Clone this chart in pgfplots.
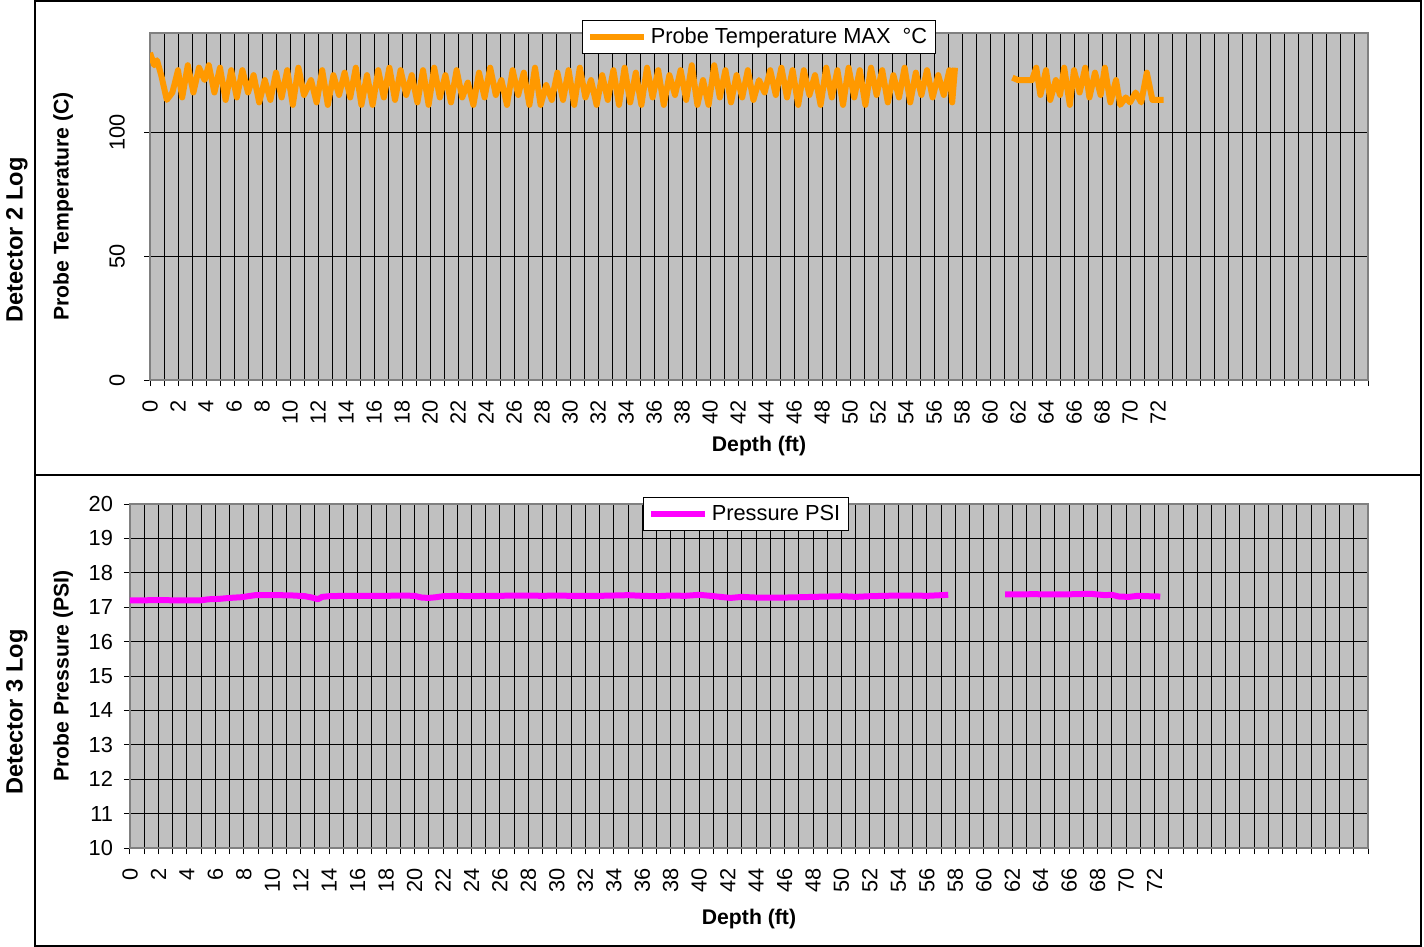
\documentclass[border=0pt]{standalone}
\usepackage{pgfplots}
\usepackage{pgfplotstable}
\pgfplotsset{compat=1.18}
\usepackage{fontspec}
\setmainfont{Liberation Sans}

\definecolor{probeorange}{HTML}{FF9900}
\definecolor{psimagenta}{HTML}{FF00FF}
\definecolor{plotgray}{HTML}{C0C0C0}
\definecolor{framegray}{HTML}{808080}

% Detector 2: probe temperature (C) against depth (ft)
\pgfplotstableread{
depth temp
0    132
0.3  127
0.5  129
0.8  123
1.2  113
1.6  116
2.0  125
2.3  114
2.7  127
3.1  116
3.5  126
3.9  121
4.2  127
4.6  116
5.0  126
5.4  113
5.8  125
6.2  114
6.6  125
7.0  116
7.4  123
7.8  112
8.2  121
8.6  113
9.0  124
9.4  114
9.8  125
10.2 111
10.6 126
11.0 115
11.5 121
11.9 112
12.3 125
12.7 111
13.1 123
13.5 115
13.9 124
14.3 114
14.7 126
15.1 111
15.5 123
15.9 111
16.3 125
16.7 114
17.1 126
17.5 113
17.9 125
18.3 115
18.7 123
19.1 112
19.5 125
19.9 111
20.3 126
20.7 114
21.1 123
21.5 112
21.9 125
22.3 114
22.7 120
23.1 111
23.5 124
23.9 114
24.3 126
24.7 115
25.1 121
25.5 111
25.9 125
26.3 115
26.7 124
27.1 111
27.5 126
27.9 111
28.3 119
28.7 113
29.1 124
29.5 113
29.9 125
30.3 111
30.7 126
31.1 114
31.5 121
31.9 111
32.3 123
32.7 113
33.1 125
33.5 111
33.9 126
34.3 112
34.7 124
35.1 111
35.5 126
35.9 114
36.3 125
36.7 111
37.1 123
37.5 115
37.9 125
38.3 113
38.7 127
39.1 111
39.5 121
39.9 111
40.3 127
40.7 114
41.1 125
41.5 112
41.9 123
42.3 114
42.7 125
43.1 113
43.5 121
43.9 116
44.3 125
44.7 115
45.1 126
45.5 114
45.9 125
46.3 111
46.7 125
47.1 115
47.5 123
47.9 111
48.3 126
48.7 114
49.1 125
49.5 111
49.9 126
50.3 114
50.7 125
51.1 111
51.5 126
51.9 115
52.3 125
52.7 112
53.1 123
53.5 114
53.9 126
54.3 112
54.7 124
55.1 115
55.5 125
55.9 114
56.3 123
56.7 115
57.1 125
57.3 112
57.5 126
59.5 nan
61.6 122
62.0 121
62.5 121
63.0 121
63.3 126
63.6 115
64.0 125
64.3 113
64.7 121
65.0 115
65.3 126
65.7 111
66.0 125
66.4 116
66.8 126
67.1 114
67.5 124
67.9 115
68.2 126
68.6 112
69.0 121
69.3 111
69.7 114
70.0 112
70.4 116
70.8 112
71.2 124
71.6 113
72.0 113
72.4 113
}\tempdata

% Detector 3: probe pressure (PSI) against depth (ft)
\pgfplotstableread{
depth psi
0    17.20
1    17.20
2    17.21
3    17.20
4    17.20
5    17.20
5.5  17.23
6.2  17.24
7    17.27
7.8  17.29
8.3  17.32
8.8  17.35
9.5  17.35
10.5 17.35
11.5 17.34
12.3 17.32
12.8 17.28
13.2 17.23
13.5 17.30
14   17.32
15   17.33
16   17.33
17   17.33
18   17.33
19   17.34
20   17.33
20.5 17.28
21   17.27
21.5 17.29
22   17.32
23   17.33
24   17.32
25   17.33
26   17.33
27   17.34
28   17.34
29   17.33
30   17.34
31   17.33
32   17.33
33   17.33
34   17.34
35   17.35
36   17.33
37   17.32
38   17.34
39   17.33
40   17.36
40.8 17.33
41.5 17.30
42.2 17.27
43   17.30
44   17.28
45   17.28
46   17.28
47   17.29
48   17.30
49   17.31
50   17.32
51   17.30
52   17.32
53   17.33
54   17.34
55   17.34
56   17.33
57   17.35
57.5 17.36
59.5 nan
61.5 17.37
62.5 17.37
63.5 17.38
64.5 17.37
65.5 17.37
66.5 17.38
67.5 17.39
68   17.37
68.5 17.35
69   17.36
69.5 17.31
70.2 17.30
70.8 17.33
71.5 17.32
72.4 17.31
}\psidata

\pgfplotsset{
  logpanel/.style={
    scale only axis,
    axis background/.style={fill=plotgray},
    axis line style={framegray, line width=1pt},
    xmin=0, xmax=87,
    xtick={0,2,...,72},
    minor xtick={0,1,...,87},
    xmajorgrids=true, xminorgrids=true, ymajorgrids=true,
    grid style={black, line width=0.5pt},
    minor grid style={black, line width=0.5pt},
    tick align=outside,
    tick pos=left,
    major tick length=3pt, minor tick length=3pt,
    every tick/.style={black, line width=0.5pt},
    ticklabel style={font=\fontsize{10.9}{12}\selectfont},
    /pgf/number format/assume math mode=true,
    % rotated labels: local x points up the page
    xticklabel style={rotate=90, anchor=east, xshift=-3.5pt},
    label style={font=\bfseries\fontsize{10.6}{12}\selectfont},
    legend style={draw=black, line width=0.5pt, fill=white,
      font=\fontsize{10.9}{12}\selectfont, anchor=center,
      inner xsep=2pt, inner ysep=1.5pt, legend cell align=left},
    legend image code/.code={\draw[##1] (0pt,0pt) -- (27pt,0pt);},
    unbounded coords=jump,
  }
}

\begin{document}
\begin{tikzpicture}
\useasboundingbox (0pt,0pt) rectangle (712pt,-473.5pt);

% Detector 2 panel
\begin{axis}[logpanel,
  at={(75pt,-190pt)}, anchor=south west,
  width=609pt, height=173.5pt,
  ymin=0, ymax=140, ytick={0,50,100},
  yticklabel style={rotate=90, anchor=south, yshift=6pt},
  xlabel={Depth (ft)}, ylabel={Probe Temperature (C)},
  xlabel style={at={(axis description cs:0.5,-0.19)}, anchor=center},
  ylabel style={at={(axis description cs:-0.0714,0.5)}, anchor=center},
  legend style={at={(0.5,0.988)}},
]
\addplot[probeorange, line width=3pt, line join=round] table[x=depth, y=temp] {\tempdata};
\addlegendentry{Probe Temperature MAX\ \ °C}
\end{axis}

% Detector 3 panel
\begin{axis}[logpanel,
  at={(65pt,-424pt)}, anchor=south west,
  width=619pt, height=172pt,
  ymin=10, ymax=20, ytick={10,11,...,20},
  yticklabel style={xshift=-2pt},
  xlabel={Depth (ft)}, ylabel={Probe Pressure (PSI)},
  xlabel style={at={(axis description cs:0.5,-0.207)}, anchor=center},
  ylabel style={at={(axis description cs:-0.0541,0.5)}, anchor=center},
  legend style={at={(0.4976,0.971)}},
]
\addplot[psimagenta, line width=3pt, line join=round] table[x=depth, y=psi] {\psidata};
\addlegendentry{Pressure PSI}
\end{axis}

% panel frames and side titles
\draw[line width=0.75pt] (17.5pt,-0.5pt) rectangle (710.5pt,-237.5pt);
\draw[line width=0.75pt] (17.5pt,-237.5pt) rectangle (710.5pt,-473pt);
\node[rotate=90, font=\bfseries\fontsize{11.8}{14}\selectfont] at (8.5pt,-120pt) {Detector 2 Log};
\node[rotate=90, font=\bfseries\fontsize{11.8}{14}\selectfont] at (8.5pt,-356pt) {Detector 3 Log};
\end{tikzpicture}
\end{document}
